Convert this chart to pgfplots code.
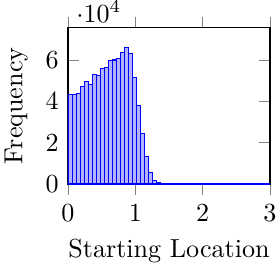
\documentclass[border=0pt]{standalone}
\usepackage{pgfplots}
\pgfplotsset{compat=1.18}
\begin{document}
\begin{tikzpicture}
\begin{axis}[
  scale only axis,
  width=77.4pt, height=59.9pt,
  xmin=0, xmax=3, ymin=0, ymax=75500,
  xtick={0,1,2,3},
  ytick={0,20000,40000,60000},
  xtick align=outside,
  xlabel={Starting Location},
  ylabel={Frequency},
]
\addplot[ybar interval, draw=blue, fill=blue!30] coordinates {
(0.00,43300) (0.06,43000) (0.12,43800) (0.18,47000) (0.24,49400)
(0.30,48200) (0.36,53100) (0.42,52400) (0.48,56000) (0.54,56400)
(0.60,59800) (0.66,59900) (0.72,60700) (0.78,63300) (0.84,65700)
(0.90,63100) (0.96,51400) (1.02,37800) (1.08,24300) (1.14,13200)
(1.20,5400) (1.26,1600) (1.32,600) (1.38,200) (1.44,0)
(1.50,0) (1.56,0) (1.62,0) (1.68,0) (1.74,0)
(1.80,0) (1.86,0) (1.92,0) (1.98,0) (2.04,0)
(2.10,0) (2.16,0) (2.22,0) (2.28,0) (2.34,0)
(2.40,0) (2.46,0) (2.52,0) (2.58,0) (2.64,0)
(2.70,0) (2.76,0) (2.82,0) (2.88,0) (2.94,0)
(3.00,0)
};
\end{axis}
\pgfresetboundingbox
\path ([shift={(-26.05pt,-31.0pt)}]current axis.south west) rectangle ([shift={(80.08pt,70.5pt)}]current axis.south west);
\end{tikzpicture}
\end{document}
